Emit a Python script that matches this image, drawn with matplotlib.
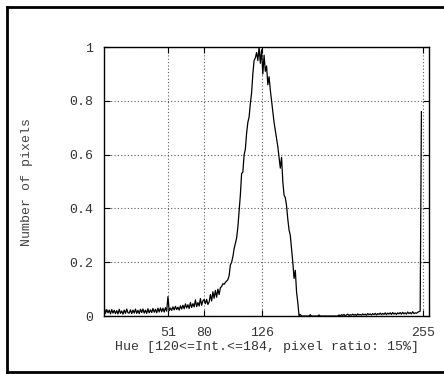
import numpy as np
import matplotlib
matplotlib.use("Agg")
import matplotlib.pyplot as plt
from matplotlib.lines import Line2D

# hue histogram (normalised), index = hue value 0..255
low = [0.032, 0.01, 0.024, 0.012, 0.022, 0.008, 0.024, 0.011, 0.021, 0.009,
       0.02, 0.008, 0.025, 0.01, 0.019, 0.007, 0.022, 0.01, 0.026, 0.012,
       0.011, 0.023, 0.009, 0.022, 0.011, 0.026, 0.01, 0.021, 0.009, 0.025,
       0.013, 0.026, 0.011, 0.022, 0.01, 0.027, 0.012, 0.023, 0.013, 0.028,
       0.014, 0.025, 0.012, 0.029, 0.015, 0.03, 0.016, 0.029, 0.015, 0.031,
       0.018]
rise = [0.072, 0.02, 0.03, 0.021, 0.034, 0.023, 0.036, 0.024, 0.033, 0.022,
        0.038, 0.026, 0.04, 0.027, 0.045, 0.03, 0.042, 0.028, 0.05, 0.032,
        0.046, 0.034, 0.06, 0.035, 0.05, 0.037, 0.065, 0.04, 0.056, 0.062,
        0.046, 0.062, 0.043, 0.052, 0.08, 0.056, 0.09, 0.066, 0.095, 0.07,
        0.1, 0.08, 0.105, 0.11, 0.12, 0.118, 0.125, 0.13, 0.135, 0.15]
peak = [0.19, 0.2, 0.22, 0.25, 0.27, 0.29, 0.33, 0.39, 0.45, 0.53,
        0.535, 0.6, 0.62, 0.68, 0.72, 0.74, 0.79, 0.83, 0.9, 0.95,
        0.96, 0.98, 0.95, 1.0, 0.94, 0.99, 0.9, 0.97, 0.91, 0.93,
        0.86, 0.89, 0.84, 0.8, 0.76, 0.72, 0.69, 0.66, 0.63, 0.59,
        0.55, 0.59, 0.5, 0.45, 0.44, 0.41, 0.36, 0.32, 0.3, 0.25,
        0.2, 0.14, 0.17, 0.09, 0.05]
tail = [0.0, 0.006, 0.0, 0.0, 0.0, 0.0, 0.0, 0.0, 0.0, 0.005,
        0.0, 0.0, 0.0, 0.0, 0.0, 0.0, 0.004, 0.0, 0.0, 0.0,
        0.0, 0.0, 0.0, 0.0, 0.0, 0.0, 0.0, 0.0, 0.0, 0.0,
        0.0, 0.0, 0.004, 0.0, 0.005, 0.002, 0.006, 0.0, 0.004, 0.007,
        0.002, 0.005, 0.003, 0.007, 0.003, 0.006, 0.002, 0.008, 0.004, 0.006,
        0.003, 0.008, 0.004, 0.007, 0.003, 0.009, 0.005, 0.008, 0.004, 0.009,
        0.005, 0.01, 0.004, 0.009, 0.006, 0.011, 0.005, 0.01, 0.006, 0.012,
        0.005, 0.011, 0.007, 0.012, 0.006, 0.013, 0.007, 0.011, 0.006, 0.012,
        0.008, 0.013, 0.007, 0.014, 0.008, 0.012, 0.007, 0.015, 0.009, 0.013,
        0.008, 0.016, 0.009, 0.012, 0.01, 0.014, 0.016, 0.018, 0.76]
y = low + rise + peak + tail
x = np.arange(len(y))

xticks = [51, 80, 126, 255]
yticks = [0, 0.2, 0.4, 0.6, 0.8, 1]
ytlabels = ["0", "0.2", "0.4", "0.6", "0.8", "1"]

plt.rcParams['font.family'] = ['Liberation Mono', 'DejaVu Sans Mono']
plt.rcParams['font.size'] = 9.5

fig = plt.figure(figsize=(4.44, 3.74), dpi=100)
ax = fig.add_axes([0.2348, 0.155, 0.966 - 0.2348, 0.874 - 0.155])
ax.plot(x, y, color='black', lw=0.9)
ax.set_xlim(0, 260)
ax.set_ylim(0, 1)
ax.set_xticks(xticks)
ax.set_yticks(yticks)
ax.set_yticklabels(ytlabels)
ax.grid(True, color='0.35', linestyle=(0, (1, 2)), lw=0.8)
ax.tick_params(direction='in', top=True, right=True, length=4, width=0.8,
               pad=8, colors='black', labelcolor='#333333')
for s in ax.spines.values():
    s.set_linewidth(1.0)
ax.set_xlabel("Hue [120<=Int.<=184, pixel ratio: 15%]", labelpad=1, color='#333333')
ax.set_ylabel("Number of pixels", labelpad=26, color='#444444')

# outer frame: left, top, bottom (right edge lies outside the image)
L, T, B = 7.3 / 444, 1 - 7.3 / 374, 1 - 372 / 374
for xs, ys in [([L, L], [B, T]), ([L, 1.05], [T, T]), ([L, 1.05], [B, B])]:
    fig.add_artist(Line2D(xs, ys, transform=fig.transFigure, color='black',
                          lw=2.0, solid_capstyle='projecting'))
fig.savefig("out.png", dpi=100)
